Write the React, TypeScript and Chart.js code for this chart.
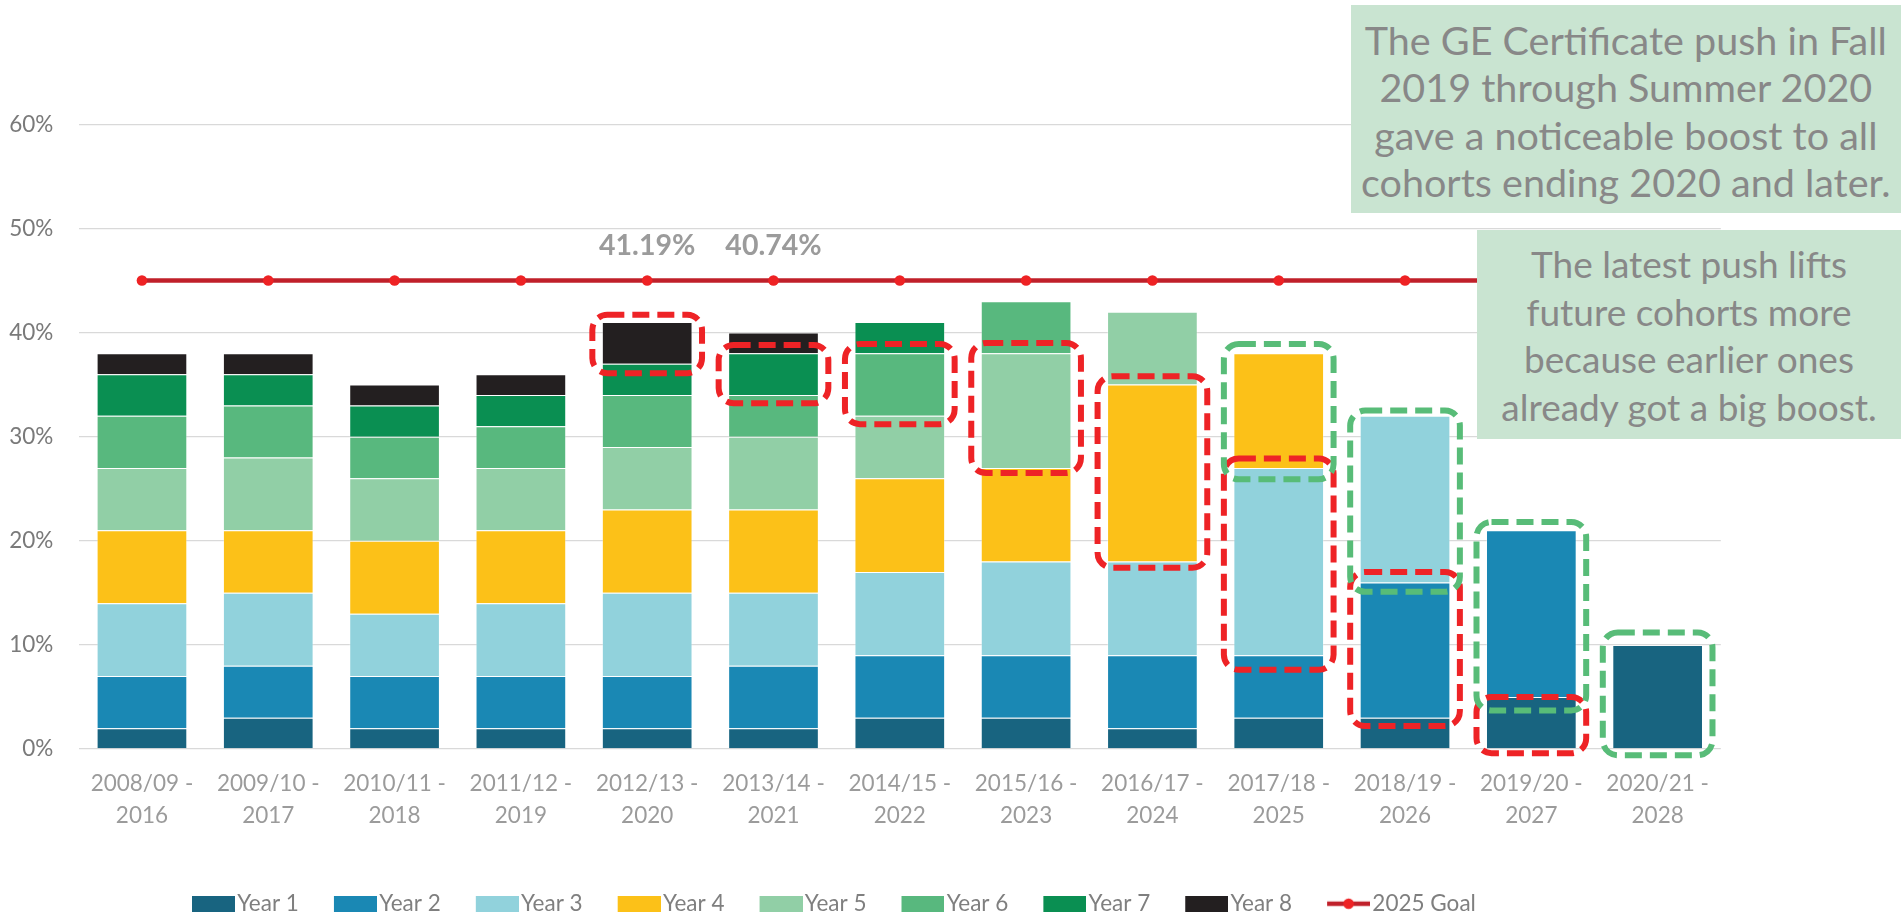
import React, { useEffect, useRef } from 'react';
import { Chart, registerables } from 'chart.js';

Chart.register(...registerables);

// ---------- data ----------
const cohortLabels: string[][] = [
  ['2008/09 -', '2016'], ['2009/10 -', '2017'], ['2010/11 -', '2018'], ['2011/12 -', '2019'],
  ['2012/13 -', '2020'], ['2013/14 -', '2021'], ['2014/15 -', '2022'], ['2015/16 -', '2023'],
  ['2016/17 -', '2024'], ['2017/18 -', '2025'], ['2018/19 -', '2026'], ['2019/20 -', '2027'],
  ['2020/21 -', '2028'],
];
const year1 = [2, 3, 2, 2, 2, 2, 3, 3, 2, 3, 3, 5, 10];
const year2 = [5, 5, 5, 5, 5, 6, 6, 6, 7, 6, 13, 16, null];
const year3 = [7, 7, 6, 7, 8, 7, 8, 9, 9, 18, 16, null, null];
const year4 = [7, 6, 7, 7, 8, 8, 9, 9, 17, 11, null, null, null];
const year5 = [6, 7, 6, 6, 6, 7, 6, 11, 7, null, null, null, null];
const year6 = [5, 5, 4, 4, 5, 4, 6, 5, null, null, null, null, null];
const year7 = [4, 3, 3, 3, 3, 4, 3, null, null, null, null, null, null];
const year8 = [2, 2, 2, 2, 4, 2, null, null, null, null, null, null, null];
const goal2025 = [45, 45, 45, 45, 45, 45, 45, 45, 45, 45, 45, 45, 45];

const yearNames = ['Year 1', 'Year 2', 'Year 3', 'Year 4', 'Year 5', 'Year 6', 'Year 7', 'Year 8'];
const yearColors = ['#186480', '#1A88B4', '#91D2DC', '#FCC118', '#91CFA6', '#58B87E', '#0A8F52', '#231F20'];

// labelled totals above two cohorts
const totalLabels = [null, null, null, null, '41.19%', '40.74%', null, null, null, null, null, null, null];
const totalLabelLevel = 48.3;

// dashed highlight boxes (category index, value range)
const redIdx = [4, 5, 6, 7, 8, 9, 10, 11];
const redFrom = [36.1, 33.2, 31.2, 26.5, 17.4, 7.6, 2.2, -0.4];
const redTo = [41.7, 38.8, 38.9, 39.0, 35.8, 27.9, 17.0, 5.0];
const greenIdx = [9, 10, 11, 12];
const greenFrom = [25.9, 15.1, 3.7, -0.6];
const greenTo = [38.9, 32.5, 21.8, 11.2];

const note1Lines = [
  'The GE Certificate push in Fall',
  '2019 through Summer 2020',
  'gave a noticeable boost to all',
  'cohorts ending 2020 and later.',
];
const note2Lines = [
  'The latest push lifts',
  'future cohorts more',
  'because earlier ones',
  'already got a big boost.',
];

const FONT = 'Lato, "Open Sans", sans-serif';
const LEGEND_PAD = 35;
const LEGEND_FONT = 22.5;

export default function App() {
  const canvasRef = useRef<HTMLCanvasElement | null>(null);

  useEffect(() => {
    const canvas = canvasRef.current;
    if (!canvas) return;

    const makeRectIcon = (color: string) => {
      const c = document.createElement('canvas');
      c.width = 52; c.height = 16;
      const g = c.getContext('2d')!;
      g.fillStyle = color;
      g.fillRect(9, 0, 43, 16);
      return c;
    };
    const makeGoalIcon = () => {
      const c = document.createElement('canvas');
      c.width = 52; c.height = 14;
      const g = c.getContext('2d')!;
      g.strokeStyle = '#C0202A';
      g.lineWidth = 4.5;
      g.beginPath(); g.moveTo(9, 7); g.lineTo(52, 7); g.stroke();
      g.fillStyle = '#EE2224';
      g.beginPath(); g.arc(30.5, 7, 5.3, 0, Math.PI * 2); g.fill();
      return c;
    };
    const icons = [...yearColors.map(makeRectIcon), makeGoalIcon()];

    const yearData = [year1, year2, year3, year4, year5, year6, year7, year8];

    const highlightPlugin = {
      id: 'highlights',
      afterDatasetsDraw(chart: any) {
        const { ctx } = chart;
        const ys = chart.scales.y;
        const meta = chart.getDatasetMeta(0);
        const draw = (idx: number, from: number, to: number, color: string) => {
          const bar = meta.data[idx];
          const half = bar.width / 2 + 9.5;
          const x0 = bar.x - half;
          const x1 = bar.x + half;
          const y0 = ys.getPixelForValue(to);
          const y1 = ys.getPixelForValue(from);
          ctx.save();
          ctx.strokeStyle = color;
          ctx.lineWidth = 6;
          ctx.setLineDash([17, 8]);
          ctx.beginPath();
          ctx.roundRect(x0, y0, x1 - x0, y1 - y0, 15);
          ctx.stroke();
          ctx.restore();
        };
        redIdx.forEach((idx, k) => draw(idx, redFrom[k], redTo[k], '#EE2326'));
        greenIdx.forEach((idx, k) => draw(idx, greenFrom[k], greenTo[k], '#58BC78'));
      },
    };

    const totalsPlugin = {
      id: 'totals',
      afterDatasetsDraw(chart: any) {
        const { ctx } = chart;
        const xs = chart.scales.x;
        const ys = chart.scales.y;
        ctx.save();
        ctx.font = `bold 28.5px ${FONT}`;
        ctx.fillStyle = '#9B9B9B';
        ctx.textAlign = 'center';
        ctx.textBaseline = 'middle';
        totalLabels.forEach((t, i) => {
          if (!t) return;
          ctx.fillText(t, xs.getPixelForValue(i), ys.getPixelForValue(totalLabelLevel));
        });
        ctx.restore();
      },
    };

    const legendShift = {
      id: 'legendShift',
      afterLayout(chart: any) {
        const lg = chart.legend;
        if (!lg) return;
        const dx = 192 - (lg.left + LEGEND_PAD);
        lg.left += dx; lg.right += dx;
        lg.top += 2; lg.bottom += 2;
      },
    };

    const legendHeight = LEGEND_FONT + LEGEND_PAD + 10;

    const chart = new Chart(canvas, {
      type: 'bar',
      data: {
        labels: cohortLabels,
        datasets: [
          ...yearData.map((d, k) => ({
            type: 'bar' as const,
            label: yearNames[k],
            data: d,
            backgroundColor: yearColors[k],
            borderColor: 'rgba(255,255,255,0.3)',
            borderWidth: 1,
            stack: 'years',
            categoryPercentage: 1,
            barPercentage: 0.718,
          })),
          {
            type: 'line' as const,
            label: '2025 Goal',
            data: goal2025,
            stack: 'goal',
            borderColor: '#C0202A',
            borderWidth: 4.5,
            pointRadius: 5.3,
            pointHoverRadius: 5.3,
            pointBackgroundColor: '#EE2224',
            pointBorderWidth: 0,
            fill: false,
            tension: 0,
          },
        ],
      } as any,
      options: {
        responsive: false,
        animation: false,
        events: [],
        layout: { padding: { left: 0, right: 180.2, top: 124.3, bottom: 0 } },
        scales: {
          x: {
            stacked: true,
            grid: { display: false, drawTicks: false },
            border: { display: false },
            ticks: {
              font: { family: FONT, size: 22.5, lineHeight: 1.391 },
              color: '#9B9B9B',
              padding: 19.4,
              maxRotation: 0,
              autoSkip: false,
            },
            afterFit: (s: any) => { s.height = 174 - legendHeight; },
          },
          y: {
            stacked: true,
            min: 0,
            max: 60,
            ticks: {
              stepSize: 10,
              callback: (v: any) => `${v}%`,
              font: { family: FONT, size: 22.5 },
              color: '#7A7A7A',
              padding: 25.5,
            },
            grid: { color: '#D9D9D9', lineWidth: 1.3, drawTicks: false },
            border: { display: false },
            afterFit: (s: any) => { s.width = 78.8; },
          },
        },
        plugins: {
          tooltip: { enabled: false },
          legend: {
            position: 'bottom',
            align: 'start',
            labels: {
              usePointStyle: true,
              pointStyleWidth: 34,
              boxHeight: 16,
              padding: LEGEND_PAD,
              color: '#7F7F7F',
              font: { family: FONT, size: LEGEND_FONT },
              generateLabels: (ch: any) => {
                const items = (Chart.defaults.plugins.legend.labels as any).generateLabels(ch);
                items.forEach((it: any) => { it.pointStyle = icons[it.datasetIndex]; });
                return items;
              },
            },
          },
        },
      } as any,
      plugins: [highlightPlugin, totalsPlugin, legendShift],
    });

    return () => chart.destroy();
  }, []);

  const noteText: React.CSSProperties = {
    textAlign: 'center',
    fontFamily: FONT,
    lineHeight: '47.6px',
    color: '#888888',
    whiteSpace: 'nowrap',
  };

  return (
    <div style={{ position: 'absolute', left: 0, top: 0, width: 1901, height: 923, overflow: 'hidden', background: '#fff' }}>
      <canvas ref={canvasRef} width={1901} height={923} style={{ width: 1901, height: 923, display: 'block' }} />
      <div style={{ position: 'absolute', left: 1350.7, top: 5, width: 550.3, height: 208.3, background: '#C9E4D1' }}>
        <div style={{ ...noteText, fontSize: 39.5, paddingTop: 10.5 }}>
          {note1Lines.map((l) => <div key={l}>{l}</div>)}
        </div>
      </div>
      <div style={{ position: 'absolute', left: 1477, top: 230, width: 424, height: 209, background: '#C9E4D1' }}>
        <div style={{ ...noteText, fontSize: 37, paddingTop: 10 }}>
          {note2Lines.map((l) => <div key={l}>{l}</div>)}
        </div>
      </div>
    </div>
  );
}
